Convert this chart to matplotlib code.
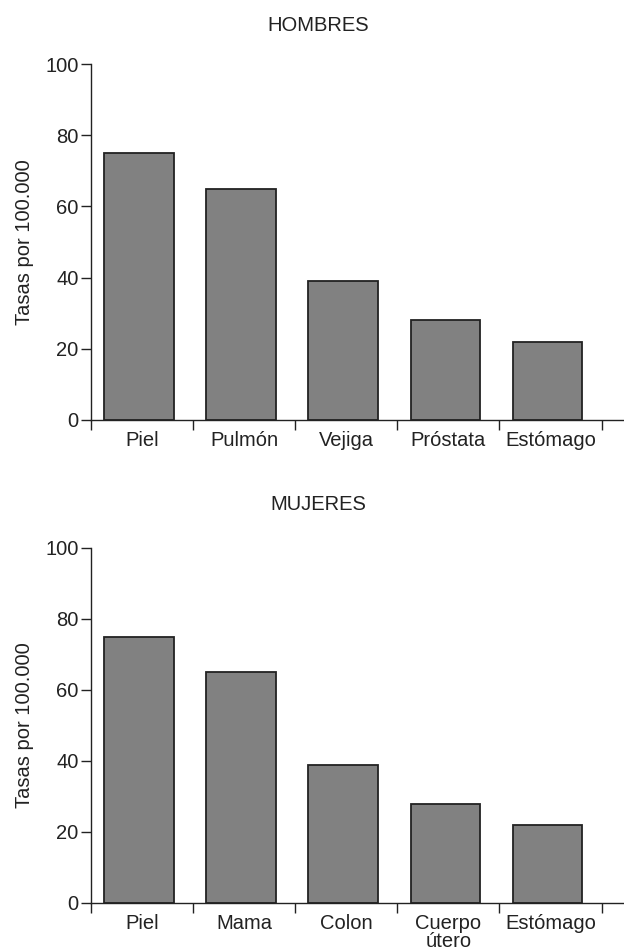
import matplotlib.pyplot as plt
import numpy as np

plt.rcParams['font.family'] = ['Liberation Sans', 'DejaVu Sans']

## los datos

cat_hombres = ["Piel", "Pulmón", "Vejiga", "Próstata", "Estómago"]
tasas_hombres = [75, 65, 39, 28, 22]

cat_mujeres = ["Piel", "Mama", "Colon", "Cuerpo\nútero", "Estómago"]
tasas_mujeres = [75, 65, 39, 28, 22]

y_ticks = [0, 20, 40, 60, 80, 100]

fig = plt.figure(figsize=(6.24, 9.51), dpi=100)

ax1 = fig.add_axes([0.1458, 0.5584, 0.8542, 0.3743])
ax2 = fig.add_axes([0.1458, 0.0505, 0.8542, 0.3733])

FS = 14.5


def dibujar(ax, cats, vals):
    x = np.arange(len(cats))
    ax.bar(x - 0.03, vals, width=0.68, color="#818181", edgecolor="#222222", linewidth=1.3)
    ax.set_ylim(0, 100)
    ax.set_xlim(-0.5, len(cats) - 0.28)
    ax.set_yticks(y_ticks)
    ax.set_xticks(x)
    ax.set_xticklabels(cats, linespacing=0.95)
    ax.set_xticks(np.arange(len(cats) + 1) - 0.5, minor=True)
    ax.tick_params(axis="x", which="major", length=0, pad=8, labelsize=FS, labelcolor="#222222")
    ax.tick_params(axis="x", which="minor", length=7, width=1, color="#222222", direction="out")
    ax.tick_params(axis="y", length=7, width=1, color="#222222", pad=2, labelsize=FS, labelcolor="#222222")
    for s in ["top", "right"]:
        ax.spines[s].set_visible(False)
    for s in ["left", "bottom"]:
        ax.spines[s].set_linewidth(1)
        ax.spines[s].set_color("#222222")
    ax.set_ylabel("Tasas por 100.000", fontsize=FS, labelpad=8, color="#222222")


dibujar(ax1, cat_hombres, tasas_hombres)
dibujar(ax2, cat_mujeres, tasas_mujeres)

fig.text(0.51, 0.9737, "HOMBRES", ha="center", va="center", fontsize=FS, color="#222222")
fig.text(0.51, 0.469, "MUJERES", ha="center", va="center", fontsize=FS, color="#222222")

fig.savefig("out.png", dpi=100)
